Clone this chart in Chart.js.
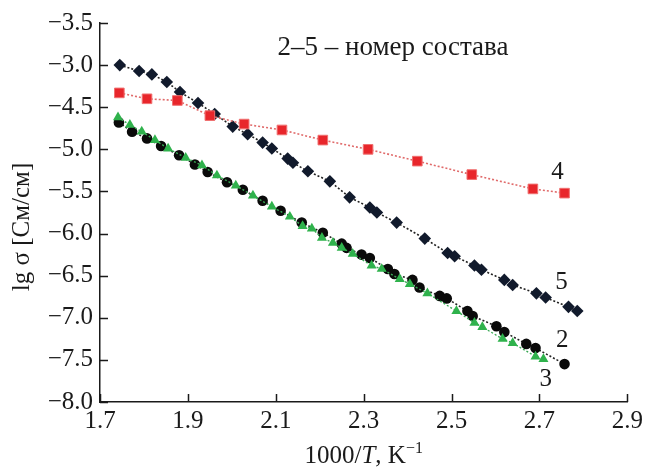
<!DOCTYPE html>
<html>
<head>
<meta charset="utf-8">
<script src="https://cdn.jsdelivr.net/npm/chart.js@4.4.1/dist/chart.umd.min.js"></script>
<style>
  html, body { margin: 0; padding: 0; background: #fff; }
  #wrap { width: 647px; height: 469px; position: relative; }
</style>
</head>
<body>
<div id="wrap"><canvas id="chart" width="647" height="469"></canvas></div>
<script>
'use strict';

// Шкалы
const xTicks = [1.7, 1.9, 2.1, 2.3, 2.5, 2.7, 2.9];
const yTicks = [-8.0, -7.5, -7.0, -6.5, -6.0, -5.5, -5.0, -4.5, -4.0, -3.5];
// подписи как на рисунке (вторая сверху напечатана как −3.0)
const yTickLabels = ['−8.0', '−7.5', '−7.0', '−6.5', '−6.0', '−5.5', '−5.0', '−4.5', '−3.0', '−3.5'];

// Состав 2 — чёрные кружки
const x2 = [1.743, 1.773, 1.807, 1.839, 1.880, 1.916, 1.945, 1.989, 2.025, 2.070, 2.111, 2.159, 2.207,
            2.250, 2.261, 2.295, 2.314, 2.355, 2.370, 2.411, 2.427, 2.473, 2.489, 2.536, 2.548, 2.602,
            2.620, 2.670, 2.691, 2.757];
const y2 = [-4.68, -4.79, -4.87, -4.96, -5.07, -5.18, -5.27, -5.39, -5.48, -5.61, -5.73, -5.87, -5.99,
            -6.12, -6.17, -6.25, -6.29, -6.42, -6.48, -6.55, -6.64, -6.74, -6.77, -6.92, -6.98, -7.10,
            -7.17, -7.31, -7.36, -7.55];

// Состав 3 — зелёные треугольники
const x3 = [1.741, 1.768, 1.795, 1.825, 1.855, 1.895, 1.932, 1.966, 2.009, 2.048, 2.091, 2.132, 2.161,
            2.182, 2.205, 2.230, 2.250, 2.275, 2.318, 2.341, 2.382, 2.405, 2.445, 2.511, 2.552, 2.570,
            2.616, 2.639, 2.691, 2.709];
const y3 = [-4.62, -4.71, -4.79, -4.89, -4.99, -5.10, -5.19, -5.31, -5.43, -5.55, -5.68, -5.80, -5.91,
            -5.94, -6.05, -6.11, -6.17, -6.24, -6.38, -6.42, -6.54, -6.60, -6.71, -6.92, -7.06, -7.11,
            -7.25, -7.30, -7.46, -7.49];

// Состав 4 — красные квадраты
const x4 = [1.744, 1.807, 1.876, 1.950, 2.028, 2.114, 2.207, 2.310, 2.422, 2.546, 2.685, 2.757];
const y4 = [-4.33, -4.40, -4.42, -4.60, -4.70, -4.77, -4.89, -5.00, -5.14, -5.30, -5.47, -5.52];

// Состав 5 — чёрные ромбы
const x5 = [1.745, 1.789, 1.818, 1.852, 1.882, 1.923, 1.961, 2.002, 2.036, 2.070, 2.091, 2.127, 2.139,
            2.173, 2.223, 2.268, 2.314, 2.330, 2.375, 2.439, 2.491, 2.507, 2.552, 2.568, 2.620, 2.639,
            2.693, 2.714, 2.766, 2.786];
const y5 = [-4.00, -4.07, -4.11, -4.20, -4.32, -4.45, -4.58, -4.73, -4.82, -4.92, -4.99, -5.11, -5.16,
            -5.26, -5.38, -5.57, -5.69, -5.75, -5.87, -6.06, -6.23, -6.27, -6.38, -6.43, -6.55, -6.61,
            -6.71, -6.76, -6.87, -6.92];

// Подписи кривых: [текст, x, y]
const curveLabels = [
  ['4', 2.741, -5.27],
  ['5', 2.750, -6.58],
  ['2', 2.752, -7.27],
  ['3', 2.714, -7.73],
];
const noteText = '2–5 – номер состава';
const yTitle = 'lg σ [См/см]';

const SERIF = '"Liberation Serif", "DejaVu Serif", serif';
const INK = '#1a1a1a';

function toPoints(xs, ys) {
  return xs.map((x, i) => ({ x, y: ys[i] }));
}

/* ---------- Плагин: внутренние засечки и подписи ---------- */
const decorPlugin = {
  id: 'decor',
  afterDraw(chart) {
    const { ctx, scales } = chart;
    const xs = scales.x, ys = scales.y;
    const left = chart.chartArea.left, bottom = chart.chartArea.bottom;
    ctx.save();
    ctx.strokeStyle = INK;
    ctx.lineWidth = 1.5;
    ctx.beginPath();
    xTicks.forEach(v => {
      const px = Math.round(xs.getPixelForValue(v)) + 0.5;
      ctx.moveTo(px, bottom);
      ctx.lineTo(px, bottom - 8);
    });
    yTicks.forEach(v => {
      const py = Math.round(ys.getPixelForValue(v)) + 0.5;
      ctx.moveTo(left, py);
      ctx.lineTo(left + 8, py);
    });
    ctx.stroke();

    ctx.fillStyle = INK;
    ctx.textBaseline = 'middle';
    ctx.textAlign = 'center';
    ctx.font = '25px ' + SERIF;
    curveLabels.forEach(([t, x, y]) => {
      ctx.fillText(t, xs.getPixelForValue(x), ys.getPixelForValue(y));
    });

    ctx.font = '27px ' + SERIF;
    ctx.fillText(noteText, 393, 48);

    // подпись оси Y
    ctx.save();
    ctx.translate(22, 227);
    ctx.rotate(-Math.PI / 2);
    ctx.font = '25px ' + SERIF;
    ctx.fillText(yTitle, 0, 0);
    ctx.restore();

    // подпись оси X: 1000/T, K^-1
    const parts = [
      { t: '1000/', f: '25px ' + SERIF, dy: 0 },
      { t: 'T', f: 'italic 25px ' + SERIF, dy: 0 },
      { t: ', K', f: '25px ' + SERIF, dy: 0 },
      { t: '−1', f: '16px ' + SERIF, dy: -10 },
    ];
    let total = 0;
    parts.forEach(p => { ctx.font = p.f; p.w = ctx.measureText(p.t).width; total += p.w; });
    let cx = (xs.left + xs.right) / 2 - total / 2;
    ctx.textAlign = 'left';
    ctx.textBaseline = 'alphabetic';
    parts.forEach(p => {
      ctx.font = p.f;
      ctx.fillText(p.t, cx, 463 + p.dy);
      cx += p.w;
    });
    ctx.restore();
  },
};

/* ---------- График ---------- */
const lineDash = [2, 2];

new Chart(document.getElementById('chart').getContext('2d'), {
  type: 'scatter',
  data: {
    datasets: [
      {
        label: '4',
        data: toPoints(x4, y4),
        showLine: true,
        borderColor: '#e06a6a',
        borderWidth: 1.6,
        borderDash: lineDash,
        pointStyle: 'rect',
        pointRadius: 6.8,
        pointBackgroundColor: '#e8262b',
        pointBorderColor: '#f07070',
        pointBorderWidth: 1,
      },
      {
        label: '5',
        data: toPoints(x5, y5),
        showLine: true,
        borderColor: '#222',
        borderWidth: 1.6,
        borderDash: lineDash,
        pointStyle: 'rectRot',
        pointRadius: 6.3,
        pointBackgroundColor: '#111a2c',
        pointBorderColor: '#111a2c',
        pointBorderWidth: 0,
      },
      {
        label: '3',
        data: toPoints(x3, y3),
        showLine: true,
        borderColor: '#3aa855',
        borderWidth: 1.4,
        borderDash: lineDash,
        pointStyle: 'triangle',
        pointRadius: 5.8,
        pointBackgroundColor: '#2fb24c',
        pointBorderColor: '#2fb24c',
        pointBorderWidth: 0,
      },
      {
        label: '2',
        data: toPoints(x2, y2),
        showLine: true,
        borderColor: '#222',
        borderWidth: 1.6,
        borderDash: lineDash,
        pointStyle: 'circle',
        pointRadius: 5.3,
        pointBackgroundColor: '#0a0a0a',
        pointBorderColor: '#0a0a0a',
        pointBorderWidth: 0,
      },
    ],
  },
  options: {
    responsive: false,
    animation: false,
    layout: { padding: { top: 23, right: 19, left: 0, bottom: 0 } },
    plugins: {
      legend: { display: false },
      tooltip: { enabled: false },
    },
    scales: {
      x: {
        type: 'linear',
        min: 1.7,
        max: 2.9,
        afterBuildTicks(scale) { scale.ticks = xTicks.map(v => ({ value: v })); },
        afterFit(scale) { scale.height = 67; },
        grid: { display: false, drawTicks: false },
        border: { display: true, color: INK, width: 1.5 },
        ticks: {
          padding: 4,
          color: INK,
          font: { family: SERIF, size: 25 },
          callback(v) { return v.toFixed(1); },
          maxRotation: 0,
        },
      },
      y: {
        type: 'linear',
        min: -8,
        max: -3.5,
        afterBuildTicks(scale) { scale.ticks = yTicks.map(v => ({ value: v })); },
        afterFit(scale) { scale.width = 100; },
        grid: { display: false, drawTicks: false },
        border: { display: true, color: INK, width: 1.5 },
        ticks: {
          padding: 7,
          color: INK,
          font: { family: SERIF, size: 25 },
          callback(v, i) { return yTickLabels[i]; },
        },
      },
    },
  },
  plugins: [decorPlugin],
});
</script>
</body>
</html>
